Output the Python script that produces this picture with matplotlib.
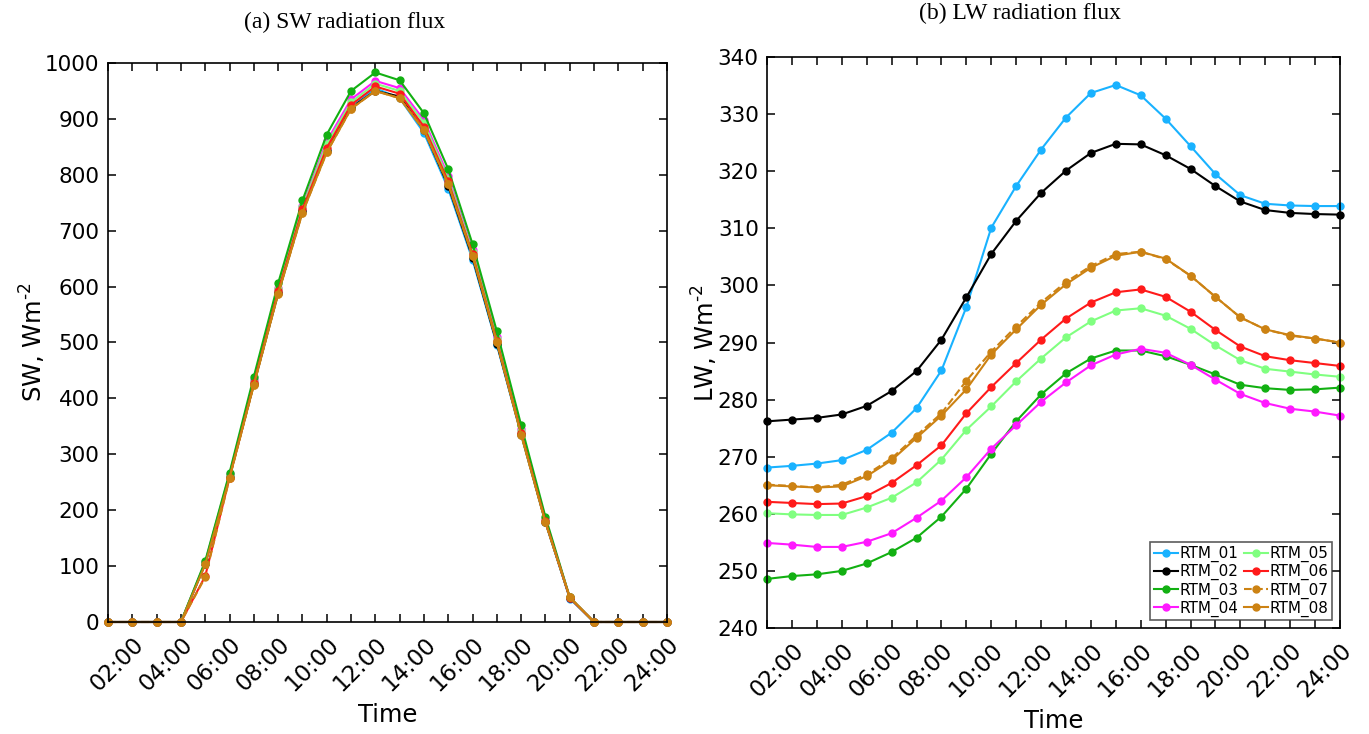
import matplotlib
matplotlib.use("Agg")
import matplotlib.pyplot as plt

hours = list(range(1, 25))
tick_hours = list(range(2, 25, 2))
tick_labels = [f"{h:02d}:00" for h in tick_hours]

series_names = ["RTM_01", "RTM_02", "RTM_03", "RTM_04",
                "RTM_05", "RTM_06", "RTM_07", "RTM_08"]
series_colors = ["#19b2ff", "#000000", "#12b012", "#ff19ff",
                 "#80ff80", "#ff1a1a", "#cc8213", "#cc8213"]
series_styles = ["-", "-", "-", "-", "-", "-", "--", "-"]

z4 = [0, 0, 0, 0]
z4b = [0, 0, 0, 0]
sw_01 = z4 + [105, 262, 427, 590, 735, 845, 922, 955, 937, 875, 775, 648, 496, 335, 178, 42] + z4b
sw_02 = z4 + [104, 260, 425, 588, 735, 843, 920, 950, 940, 880, 780, 652, 498, 337, 179, 43] + z4b
sw_03 = z4 + [109, 267, 439, 606, 754, 872, 950, 983, 969, 910, 810, 676, 520, 352, 188, 44] + z4b
sw_04 = z4 + [107, 264, 432, 597, 745, 860, 935, 968, 955, 898, 798, 666, 510, 345, 183, 44] + z4b
sw_05 = z4 + [106, 263, 430, 595, 742, 855, 930, 963, 950, 893, 793, 662, 507, 342, 181, 44] + z4b
sw_06 = z4 + [82, 258, 427, 592, 738, 848, 925, 958, 945, 886, 788, 658, 503, 338, 180, 43] + z4b
sw_07 = z4 + [80, 257, 424, 587, 732, 840, 918, 950, 937, 880, 783, 655, 500, 335, 178, 44] + z4b
sw_08 = z4 + [103, 258, 424, 587, 732, 840, 918, 950, 937, 880, 783, 655, 500, 335, 178, 44] + z4b

lw_01 = [268.1, 268.4, 268.8, 269.4, 271.2, 274.2, 278.5, 285.1, 296.2, 310.1, 317.4, 323.8,
         329.4, 333.7, 335.1, 333.3, 329.2, 324.4, 319.5, 315.8, 314.3, 314.0, 313.9, 313.9]
lw_02 = [276.2, 276.5, 276.8, 277.4, 278.9, 281.5, 285.0, 290.5, 297.9, 305.5, 311.3, 316.2,
         320.1, 323.2, 324.8, 324.7, 322.8, 320.4, 317.4, 314.7, 313.2, 312.7, 312.5, 312.4]
lw_03 = [248.6, 249.1, 249.4, 250.0, 251.3, 253.3, 255.8, 259.5, 264.4, 270.5, 276.2, 280.9,
         284.6, 287.2, 288.6, 288.6, 287.6, 286.1, 284.4, 282.6, 282.0, 281.7, 281.8, 282.1]
lw_04 = [254.9, 254.6, 254.2, 254.2, 255.1, 256.6, 259.3, 262.3, 266.4, 271.4, 275.5, 279.6,
         283.0, 286.0, 287.9, 288.9, 288.2, 286.1, 283.5, 281.0, 279.4, 278.4, 277.9, 277.2]
lw_05 = [260.1, 259.9, 259.8, 259.8, 261.1, 262.8, 265.5, 269.5, 274.7, 278.8, 283.2, 287.2,
         290.9, 293.7, 295.6, 296.0, 294.7, 292.4, 289.5, 286.9, 285.4, 284.9, 284.4, 284.0]
lw_06 = [262.1, 261.9, 261.7, 261.8, 263.1, 265.4, 268.5, 272.0, 277.6, 282.2, 286.4, 290.5,
         294.2, 297.0, 298.8, 299.3, 298.0, 295.4, 292.2, 289.3, 287.6, 286.9, 286.4, 285.9]
lw_07 = [265.1, 264.9, 264.6, 265.1, 266.9, 269.7, 273.7, 277.6, 283.3, 288.4, 292.8, 297.0,
         300.6, 303.4, 305.5, 305.9, 304.6, 301.7, 298.0, 294.4, 292.3, 291.2, 290.7, 290.0]
lw_08 = [265.0, 264.8, 264.6, 264.8, 266.6, 269.4, 273.3, 277.2, 281.8, 287.9, 292.3, 296.6,
         300.2, 303.1, 305.2, 305.9, 304.7, 301.7, 298.0, 294.4, 292.3, 291.3, 290.7, 290.0]

sw_data = [sw_01, sw_02, sw_03, sw_04, sw_05, sw_06, sw_07, sw_08]
lw_data = [lw_01, lw_02, lw_03, lw_04, lw_05, lw_06, lw_07, lw_08]

# draw order for the SW panel: highest curve on top, orange last
sw_order = [0, 1, 3, 4, 2, 5, 6, 7]

fig = plt.figure(figsize=(13.69, 7.34), dpi=100)
ax1 = fig.add_axes([0.0789, 0.1526, 0.4083, 0.7616])
ax2 = fig.add_axes([0.5603, 0.1444, 0.4185, 0.7779])


def style_axis(ax, ylim, yticks):
    ax.set_xlim(1, 24)
    ax.set_ylim(*ylim)
    ax.set_yticks(yticks)
    ax.set_xticks(tick_hours)
    ax.set_xticks([h for h in hours if h % 2 == 1], minor=True)
    ax.set_xticklabels(tick_labels, rotation=45, ha="right",
                       rotation_mode="anchor")
    ax.tick_params(which="both", direction="in", top=True, right=True,
                   length=6, width=1.1, labelsize=15.5, pad=6)
    ax.tick_params(axis="x", which="both", pad=8, labelsize=16.5)
    for sp in ax.spines.values():
        sp.set_linewidth(1.2)
    ax.set_xlabel("Time", fontsize=17.5, labelpad=5)


for i in sw_order:
    ax1.plot(hours, sw_data[i], linestyle=series_styles[i], color=series_colors[i],
             marker="o", markersize=5, linewidth=1.5, clip_on=False,
             label=series_names[i])
style_axis(ax1, (0, 1000), range(0, 1001, 100))
ax1.set_ylabel(r"SW, Wm$^{\text{-2}}$", fontsize=17.5, labelpad=-2)

lines = []
for i in range(8):
    ln, = ax2.plot(hours, lw_data[i], linestyle=series_styles[i], color=series_colors[i],
                   marker="o", markersize=5, linewidth=1.5, clip_on=False,
                   label=series_names[i])
    lines.append(ln)
style_axis(ax2, (240, 340), range(240, 341, 10))
ax2.set_ylabel(r"LW, Wm$^{\text{-2}}$", fontsize=17.5, labelpad=-2)

leg = ax2.legend(handles=lines, loc="lower right", ncol=2, fontsize=11,
                 frameon=True, fancybox=False, handlelength=1.6,
                 handletextpad=0.1, columnspacing=0.3, labelspacing=0.12,
                 borderpad=0.25, borderaxespad=0.5)
leg.get_frame().set_edgecolor("#333333")
leg.get_frame().set_linewidth(1.2)

fig.text(0.252, 0.970, "(a) SW radiation flux", ha="center", va="center",
         fontsize=17, family="Liberation Serif")
fig.text(0.745, 0.982, "(b) LW radiation flux", ha="center", va="center",
         fontsize=17, family="Liberation Serif")

fig.savefig("out.png", dpi=100)
